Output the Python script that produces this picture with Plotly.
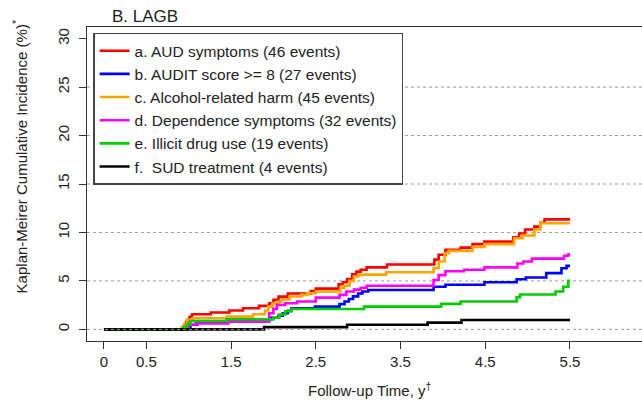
import plotly.graph_objects as go

# Kaplan-Meier cumulative incidence (%) after LAGB, by outcome.
# Each series: event times (years) and the cumulative incidence reached at that time.
aud_t = [0, 0.93, 0.95, 0.97, 0.99, 1.01, 1.04, 1.26, 1.48, 1.64, 1.83, 1.95, 2.0, 2.06, 2.17,
         2.44, 2.5, 2.77, 2.82, 2.87, 2.93, 2.98, 3.03, 3.1, 3.34, 3.9, 3.95, 4.03, 4.21, 4.35,
         4.49, 4.83, 4.9, 4.97, 5.08, 5.15, 5.2, 5.5]
aud_y = [0, 0.24, 0.5, 0.75, 1.0, 1.3, 1.56, 1.74, 1.94, 2.18, 2.42, 2.7, 3.04, 3.38, 3.7,
         3.95, 4.2, 4.65, 4.86, 5.2, 5.68, 5.96, 6.15, 6.4, 6.7, 7.2, 7.7, 8.2, 8.44, 8.8,
         9.05, 9.5, 9.9, 10.3, 10.6, 11.0, 11.35, 11.35]

audit_t = [0, 0.97, 1.02, 1.1, 1.45, 1.96, 2.06, 2.11, 2.17, 2.21, 2.49, 2.78, 2.84, 2.89, 2.94,
           3.0, 3.05, 3.12, 3.89, 4.03, 4.49, 4.87, 4.98, 5.22, 5.4, 5.46, 5.5]
audit_y = [0, 0.24, 0.48, 0.72, 0.96, 1.2, 1.4, 1.67, 1.91, 2.18, 2.35, 2.6, 2.87, 3.14, 3.4,
           3.7, 3.9, 4.07, 4.4, 4.6, 4.86, 5.17, 5.35, 5.8, 6.3, 6.55, 6.55]

harm_t = [0, 0.92, 0.95, 0.98, 1.05, 1.45, 1.76, 1.9, 1.94, 1.99, 2.06, 2.1, 2.19, 2.33, 2.4,
          2.5, 2.79, 2.84, 2.9, 2.95, 3.0, 3.33, 3.89, 3.95, 4.02, 4.07, 4.35, 4.49, 4.84, 4.94,
          5.08, 5.15, 5.5]
harm_y = [0, 0.25, 0.5, 0.98, 1.15, 1.32, 1.56, 1.94, 2.35, 2.7, 2.87, 3.1, 3.39, 3.56, 3.73,
          3.9, 4.3, 4.5, 5.0, 5.45, 5.65, 5.9, 6.3, 7.0, 7.85, 8.1, 8.5, 8.8, 9.4, 9.7,
          10.3, 10.95, 10.95]

dep_t = [0, 0.97, 1.0, 1.08, 1.47, 1.95, 2.0, 2.04, 2.14, 2.28, 2.5, 2.78, 2.86, 2.95, 3.03,
         3.1, 3.89, 3.95, 4.03, 4.25, 4.49, 4.88, 4.95, 5.05, 5.43, 5.48, 5.5]
dep_y = [0, 0.24, 0.48, 0.6, 0.8, 1.67, 2.1, 2.52, 2.7, 2.87, 3.28, 3.56, 3.9, 4.1, 4.3,
         4.5, 5.1, 5.6, 6.0, 6.15, 6.4, 6.8, 7.0, 7.3, 7.6, 7.75, 7.75]

drug_t = [0, 0.94, 0.98, 1.02, 1.45, 2.0, 2.07, 2.14, 2.21, 3.07, 3.98, 4.21, 4.87, 4.91,
          5.33, 5.42, 5.48, 5.5]
drug_y = [0, 0.24, 0.5, 0.86, 1.03, 1.2, 1.53, 1.87, 2.1, 2.35, 2.63, 2.87, 3.3, 3.6,
          3.9, 4.4, 5.0, 5.0]

sud_t = [0, 1.89, 2.87, 3.82, 4.22, 5.5]
sud_y = [0, 0.23, 0.47, 0.7, 0.97, 0.97]

series_names = [
    "a. AUD symptoms (46 events)",
    "b. AUDIT score >= 8 (27 events)",
    "c. Alcohol-related harm (45 events)",
    "d. Dependence symptoms (32 events)",
    "e. Illicit drug use (19 events)",
    "f.\u00a0 SUD treatment (4 events)",
]
series_t = [aud_t, audit_t, harm_t, dep_t, drug_t, sud_t]
series_y = [aud_y, audit_y, harm_y, dep_y, drug_y, sud_y]
series_colors = ["#FF0000", "#0000FF", "#FFA500", "#FF00FF", "#00CD00", "#000000"]

x_ticks = [0, 0.5, 1.5, 2.5, 3.5, 4.5, 5.5]
y_ticks = [0, 5, 10, 15, 20, 25, 30]
grid_levels = [0, 5, 10, 15, 20, 25]

FONT = "Liberation Sans, Arial, Helvetica, sans-serif"
INK = "#222222"

fig = go.Figure()
for i, (name, t, y, c) in enumerate(zip(series_names, series_t, series_y, series_colors)):
    fig.add_trace(go.Scatter(
        x=t, y=y, mode="lines", name=name,
        line=dict(color=c, width=2.6, shape="hv"),
        legendgroup=f"g{i}",
    ))

# dotted reference lines
for lv in grid_levels:
    fig.add_shape(type="line", xref="paper", x0=0, x1=1, yref="y", y0=lv, y1=lv,
                  line=dict(color="#9a9a9a", width=1, dash="dot"),
                  layer="above" if lv == 0 else "below")

fig.update_layout(
    width=642, height=405,
    margin=dict(l=87, r=0, t=27, b=64),
    paper_bgcolor="white", plot_bgcolor="white",
    font=dict(family=FONT, size=15, color=INK),
    showlegend=True,
    legend=dict(
        x=0.011, y=0.982, xanchor="left", yanchor="top",
        bgcolor="white", bordercolor="#444444", borderwidth=1.5,
        font=dict(family=FONT, size=15.5, color=INK),
        traceorder="grouped", tracegroupgap=0,
        entrywidth=297, entrywidthmode="pixels",
    ),
    annotations=[
        dict(text="B. LAGB", xref="paper", yref="paper", x=0.042, y=1.0, yshift=11,
             xanchor="left", yanchor="middle", showarrow=False,
             font=dict(family=FONT, size=17, color=INK)),
        dict(text="Kaplan-Meirer Cumulative Incidence (%)<sup>*</sup>",
             xref="paper", yref="paper", x=-0.12, y=0.586, textangle=-90,
             xanchor="center", yanchor="middle", showarrow=False,
             font=dict(family=FONT, size=15, color=INK)),
        dict(text="Follow-up Time, y<sup>†</sup>",
             xref="paper", yref="paper", x=0.51, y=-0.156,
             xanchor="center", yanchor="middle", showarrow=False,
             font=dict(family=FONT, size=15, color=INK)),
    ],
)

fig.update_xaxes(
    range=[-0.2, 6.35], tickmode="array", tickvals=x_ticks,
    ticktext=[f"{v:g}" for v in x_ticks],
    showline=True, linecolor="#333333", linewidth=1.3, mirror=True,
    ticks="outside", ticklen=7, tickcolor="#333333", tickwidth=1.3,
    tickfont=dict(family=FONT, size=15, color=INK),
    showgrid=False, zeroline=False,
)
fig.update_yaxes(
    range=[-1.2, 31.2], tickmode="array", tickvals=y_ticks,
    ticktext=[str(v) for v in y_ticks], tickangle=-90,
    showline=True, linecolor="#333333", linewidth=1.3,
    ticks="outside", ticklen=7, tickcolor="#333333", tickwidth=1.3,
    tickfont=dict(family=FONT, size=15, color=INK), ticklabelstandoff=4,
    showgrid=False, zeroline=False,
)

fig.write_html("out.html")
